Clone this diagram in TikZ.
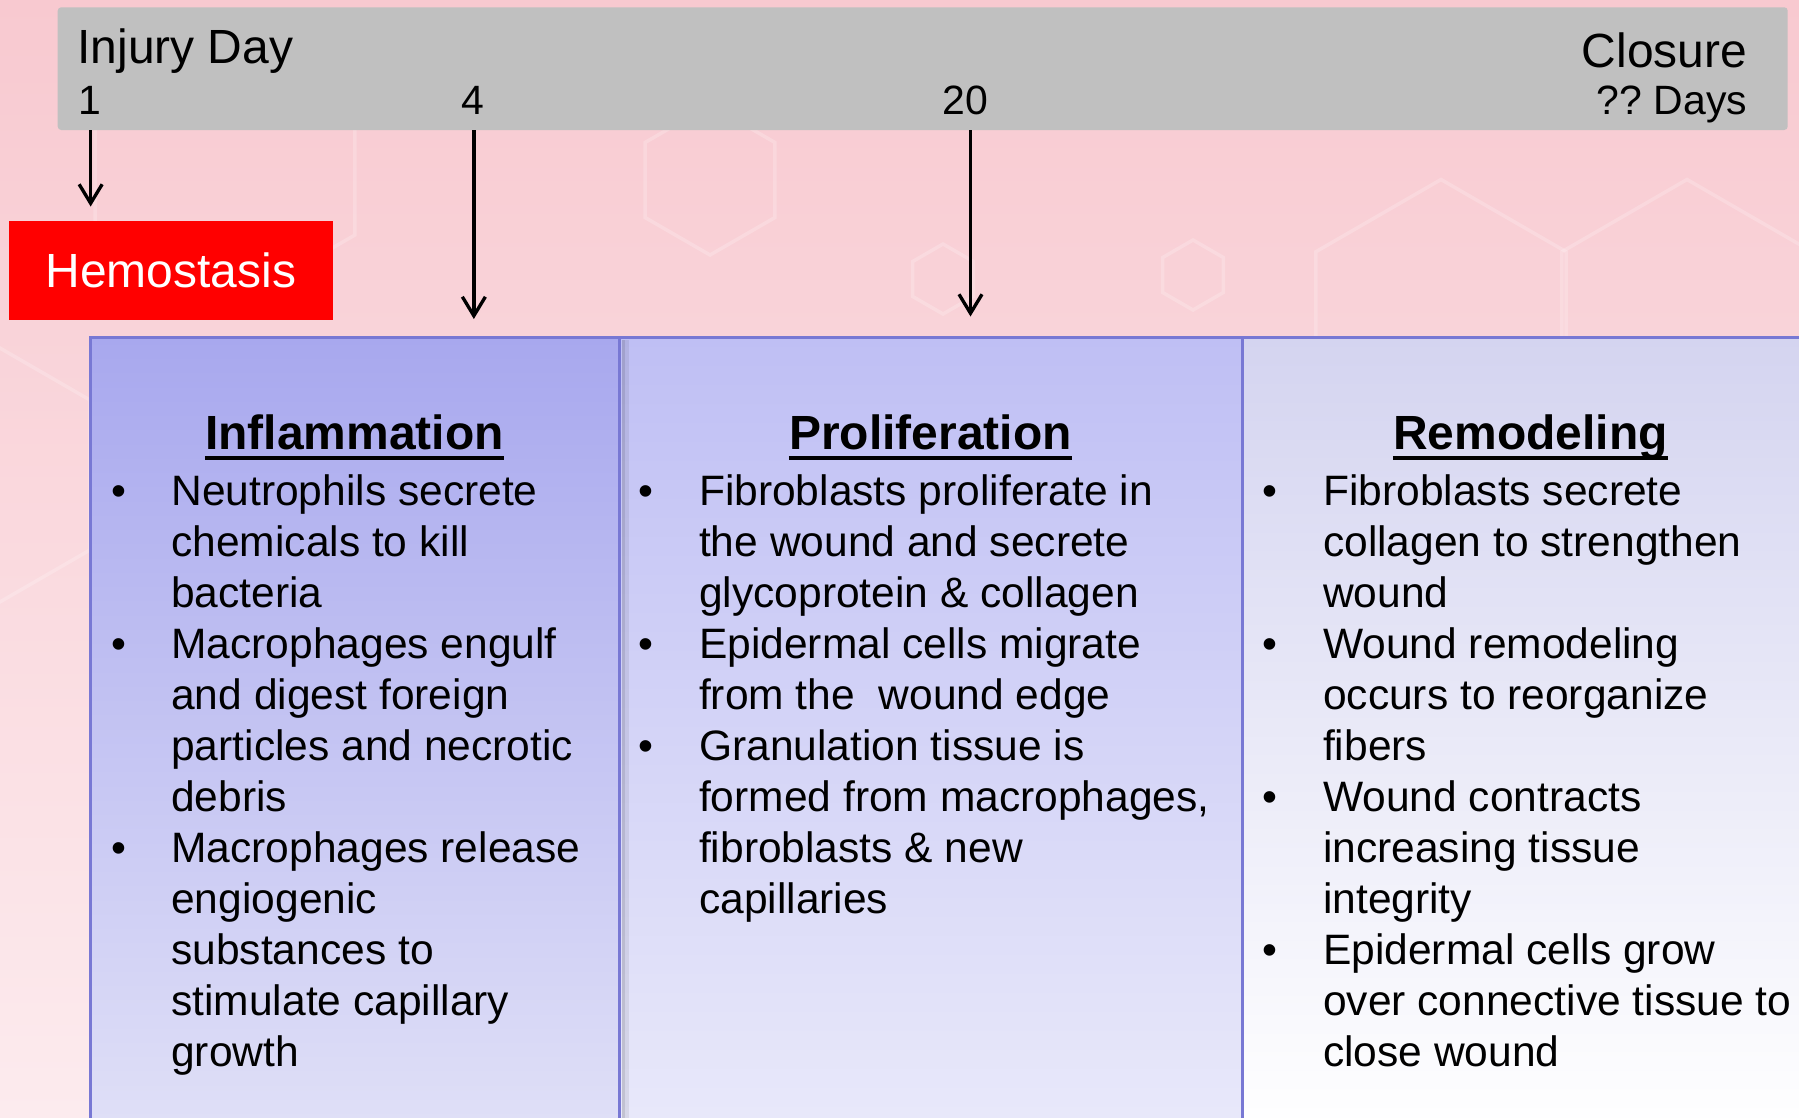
\documentclass[tikz,border=0pt]{standalone}
\usepackage{fontspec}
\setmainfont{Liberation Sans}
\usetikzlibrary{arrows.meta}

\definecolor{bgtop}{HTML}{F8C9D0}
\definecolor{bgbot}{HTML}{FCEBEE}
\definecolor{bargray}{HTML}{C0C0C0}
\definecolor{edge}{HTML}{7878D4}
\definecolor{inftop}{HTML}{A8A8EE}
\definecolor{infbot}{HTML}{E0E0F7}
\definecolor{protop}{HTML}{BFBFF4}
\definecolor{probot}{HTML}{E9E9FA}
\definecolor{remtop}{HTML}{D4D4F0}
\definecolor{rembot}{HTML}{FFFFFF}

\newcommand{\bigtxt}{\fontsize{27.3}{32}\selectfont}
\newcommand{\daytxt}{\fontsize{23.3}{28}\selectfont}
\newcommand{\bodytxt}{\fontsize{24.2}{29.04}\selectfont}

\begin{document}
\begin{tikzpicture}[
  day/.style={inner sep=0, font=\daytxt},
  phase/.style={draw=edge, line width=1.8pt},
  title/.style={inner sep=0, anchor=base, font=\bigtxt\bfseries},
  points/.style={inner sep=0, anchor=base west, font=\bodytxt},
  timeline/.style={line width=1.9pt, -{Straight Barb[length=0.38cm,width=0.46cm]}},
  hexline/.style={draw=white, line width=2pt, opacity=0.2}
]
% Wound healing: timeline and the three phases
\clip (0,0) rectangle (35.98,-22.34);
\shade[top color=bgtop, bottom color=bgbot] (0,0) rectangle (35.98,-22.34);
\foreach \x/\y/\r in {28.82/-6.48/2.89, 33.74/-6.48/2.89, 18.86/-5.58/0.7, 23.86/-5.5/0.7, 14.2/-3.6/1.5, 4.5/-3.2/3.0, -0.8/-9.5/3.0}
  \draw[hexline] (\x,\y) +(30:\r) -- +(90:\r) -- +(150:\r) -- +(210:\r) -- +(270:\r) -- +(330:\r) -- cycle;

% timeline bar
\node (bar) [fill=bargray, rounded corners=2pt, minimum width=34.6cm, minimum height=2.455cm,
  inner sep=0, anchor=north west] at (1.147,-0.138) {};
\node (injury) [day, font=\bigtxt, anchor=base west] at (1.54,-1.262) {Injury Day};
\node (day1) [day, anchor=base west] at (1.56,-2.295) {1};
\node (day4) [day, anchor=base] at (9.454,-2.295) {4};
\node (day20) [day, anchor=base] at (19.30,-2.295) {20};
\node (closure) [day, font=\bigtxt, anchor=base east] at (34.95,-1.354) {Closure};
\node (days) [day, anchor=base east] at (34.95,-2.295) {??\ Days};

\node (hemo) [fill=red, text=white, font=\bigtxt, minimum width=6.47cm, minimum height=1.973cm,
  inner sep=0] at (3.419,-5.4155) {Hemostasis};

% phase columns
\draw[phase, top color=remtop, bottom color=rembot] (24.85,-6.746) rectangle (36.6,-22.7);
\draw[phase, top color=protop, bottom color=probot] (12.39,-6.746) rectangle (24.85,-22.7);
\draw[phase, top color=inftop, bottom color=infbot] (1.813,-6.746) rectangle (12.39,-22.7);
\fill[black, opacity=0.16] (12.43,-6.80) rectangle (12.50,-22.7);
\fill[black, opacity=0.07] (12.50,-6.80) rectangle (12.57,-22.7);

% arrows from the days
\coordinate (a1) at (1.813,-4.13);
\coordinate (a4) at (9.477,-6.38);
\coordinate (a20) at (19.41,-6.33);
\draw[timeline] (a1 |- bar.south) -- (a1);
\draw[timeline] (a4 |- bar.south) -- (a4);
\draw[timeline] (a20 |- bar.south) -- (a20);

% titles
\node (infl) [title] at (7.09,-8.995) {Inflammation};
\node (prol) [title] at (18.61,-8.995) {Proliferation};
\node (remo) [title] at (30.61,-8.995) {Remodeling};
\foreach \t in {infl,prol,remo}
  \draw[line width=2pt] ([yshift=-4.6pt]\t.base west) -- ([yshift=-4.6pt]\t.base east);

\node (infl-pts) [points] at (2.214,-10.10) {\begin{tabular}[t]{@{}p{1.206cm}@{}l@{}}
\textbullet & Neutrophils secrete\\
 & chemicals to kill\\
 & bacteria\\
\textbullet & Macrophages engulf\\
 & and digest foreign\\
 & particles and necrotic\\
 & debris\\
\textbullet & Macrophages release\\
 & engiogenic\\
 & substances to\\
 & stimulate capillary\\
 & growth
\end{tabular}};

\node (prol-pts) [points] at (12.77,-10.10) {\begin{tabular}[t]{@{}p{1.206cm}@{}l@{}}
\textbullet & Fibroblasts proliferate in\\
 & the wound and secrete\\
 & glycoprotein \& collagen\\
\textbullet & Epidermal cells migrate\\
 & from the\ \ wound edge\\
\textbullet & Granulation tissue is\\
 & formed from macrophages,\\
 & fibroblasts \& new\\
 & capillaries
\end{tabular}};

\node (remo-pts) [points] at (25.25,-10.10) {\begin{tabular}[t]{@{}p{1.206cm}@{}l@{}}
\textbullet & Fibroblasts secrete\\
 & collagen to strengthen\\
 & wound\\
\textbullet & Wound remodeling\\
 & occurs to reorganize\\
 & fibers\\
\textbullet & Wound contracts\\
 & increasing tissue\\
 & integrity\\
\textbullet & Epidermal cells grow\\
 & over connective tissue to\\
 & close wound
\end{tabular}};
\end{tikzpicture}
\end{document}
